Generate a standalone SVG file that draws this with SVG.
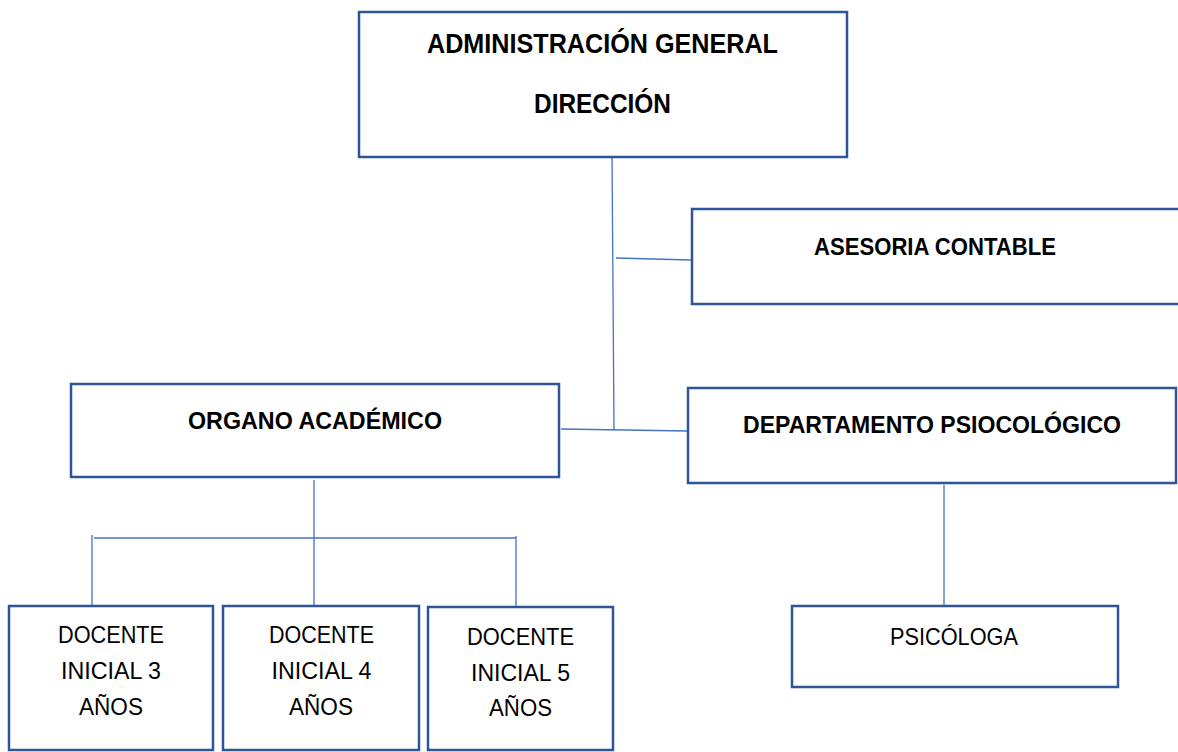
<svg xmlns="http://www.w3.org/2000/svg" width="1178" height="752" viewBox="0 0 1178 752">
<style>
.box{fill:#ffffff;stroke:#2F5597;stroke-width:2.5}
.ln{fill:none;stroke:#4472C4;stroke-width:1.3}
.b{font-family:"Liberation Sans",Arial,sans-serif;font-weight:bold;fill:#000;text-anchor:middle}
.r{font-family:"Liberation Sans",Arial,sans-serif;fill:#000;text-anchor:middle;font-size:24.3px}
</style>
<rect width="1178" height="752" fill="#ffffff"/>
<g id="connectors">
<path class="ln" d="M612,152 L614,430"/>
<path class="ln" d="M616,258 L691,260"/>
<path class="ln" d="M561,429 L688,431"/>
<path class="ln" d="M314,480 L314,606"/>
<path class="ln" d="M94,538 L516,538"/>
<path class="ln" d="M92,535 L92,606"/>
<path class="ln" d="M516,536 L516,607"/>
<path class="ln" d="M944,485 L944,605"/>
</g>
<g id="n-admin">
<rect class="box" x="359" y="12" width="488" height="145"/>
<text class="b" x="602.5" y="53" font-size="27" textLength="351" lengthAdjust="spacingAndGlyphs">ADMINISTRACIÓN GENERAL</text>
<text class="b" x="602.5" y="113" font-size="27" textLength="137" lengthAdjust="spacingAndGlyphs">DIRECCIÓN</text>
</g>
<g id="n-asesoria">
<rect class="box" x="692" y="209" width="500" height="95"/>
<text class="b" x="935" y="255" font-size="24.5" textLength="242" lengthAdjust="spacingAndGlyphs">ASESORIA CONTABLE</text>
</g>
<g id="n-organo">
<rect class="box" x="71" y="384" width="488" height="93"/>
<text class="b" x="315" y="429" font-size="24.5" textLength="254" lengthAdjust="spacingAndGlyphs">ORGANO ACADÉMICO</text>
</g>
<g id="n-depto">
<rect class="box" x="688" y="388" width="488" height="95"/>
<text class="b" x="932" y="433" font-size="24.5" textLength="378" lengthAdjust="spacingAndGlyphs">DEPARTAMENTO PSIOCOLÓGICO</text>
</g>
<g id="n-doc3">
<rect class="box" x="9" y="606" width="204" height="144"/>
<text class="r" x="111" y="643" textLength="106" lengthAdjust="spacingAndGlyphs">DOCENTE</text>
<text class="r" x="111" y="679" textLength="100" lengthAdjust="spacingAndGlyphs">INICIAL 3</text>
<text class="r" x="111" y="715" textLength="64" lengthAdjust="spacingAndGlyphs">AÑOS</text>
</g>
<g id="n-doc4">
<rect class="box" x="223" y="606" width="196" height="144"/>
<text class="r" x="321.5" y="643" textLength="105" lengthAdjust="spacingAndGlyphs">DOCENTE</text>
<text class="r" x="321.5" y="679" textLength="100" lengthAdjust="spacingAndGlyphs">INICIAL 4</text>
<text class="r" x="321" y="715" textLength="64" lengthAdjust="spacingAndGlyphs">AÑOS</text>
</g>
<g id="n-doc5">
<rect class="box" x="428" y="607" width="185" height="143"/>
<text class="r" x="520.5" y="645" textLength="107" lengthAdjust="spacingAndGlyphs">DOCENTE</text>
<text class="r" x="520.5" y="681" textLength="99" lengthAdjust="spacingAndGlyphs">INICIAL 5</text>
<text class="r" x="520.5" y="716" textLength="63" lengthAdjust="spacingAndGlyphs">AÑOS</text>
</g>
<g id="n-psicologa">
<rect class="box" x="792" y="606" width="326" height="81"/>
<text class="r" x="954" y="645" textLength="128" lengthAdjust="spacingAndGlyphs">PSICÓLOGA</text>
</g>
</svg>
